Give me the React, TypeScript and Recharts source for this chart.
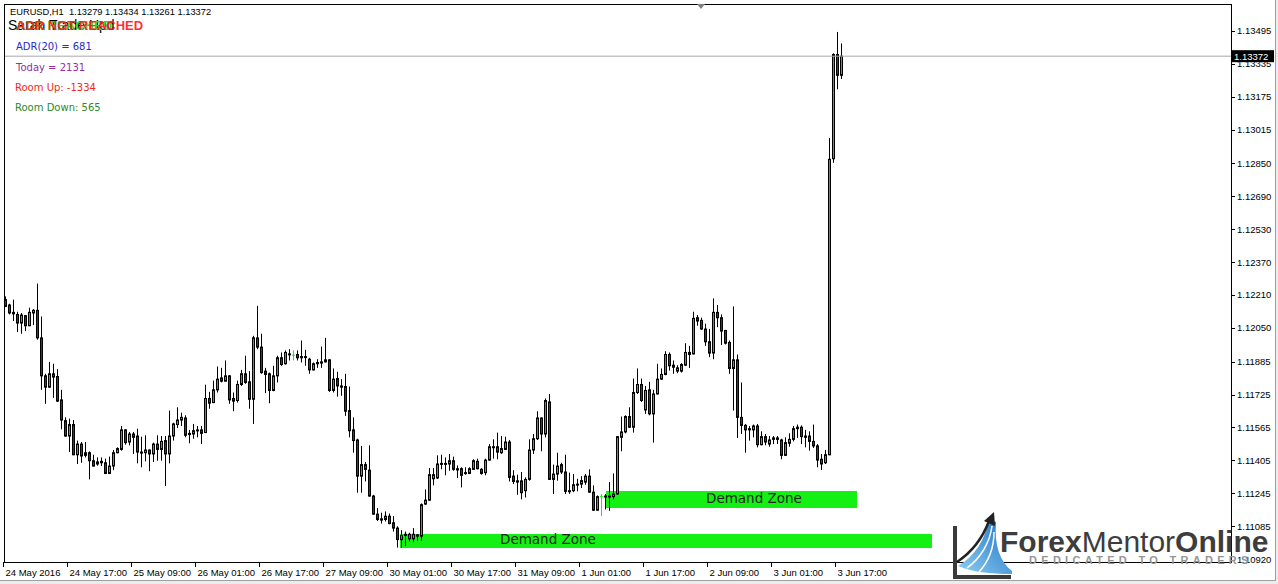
import { Bar, ComposedChart, ReferenceArea, ReferenceLine, XAxis, YAxis } from "recharts"

// EURUSD H1, one entry per bar, oldest first
const opens = [
  1.12187, 1.12161, 1.12125, 1.12115, 1.12073, 1.12109, 1.1206, 1.12122, 1.12135, 1.12001,
  1.11816, 1.11761, 1.11826, 1.11813, 1.11699, 1.11598, 1.11523, 1.11579, 1.11432, 1.11484,
  1.11429, 1.11442, 1.11403, 1.11387, 1.11393, 1.11393, 1.11341, 1.11377, 1.11442, 1.11458,
  1.11553, 1.11494, 1.11533, 1.11523, 1.11445, 1.11442, 1.11455, 1.11436, 1.11484, 1.11458,
  1.11501, 1.11436, 1.11523, 1.11579, 1.11601, 1.11611, 1.1153, 1.11533, 1.11549, 1.11553,
  1.1154, 1.11706, 1.11686, 1.11748, 1.11806, 1.1179, 1.11816, 1.11706, 1.11696, 1.11774,
  1.11826, 1.11787, 1.11702, 1.12001, 1.11956, 1.11839, 1.11826, 1.11745, 1.11816, 1.11904,
  1.11875, 1.1192, 1.11917, 1.1192, 1.1191, 1.1191, 1.11897, 1.11845, 1.11875, 1.11878,
  1.11884, 1.11894, 1.11745, 1.11803, 1.11767, 1.11764, 1.11647, 1.11553, 1.11504, 1.11328,
  1.11384, 1.11357, 1.11231, 1.11143, 1.1112, 1.11117, 1.11133, 1.11101, 1.11075, 1.11019,
  1.11039, 1.11023, 1.11023, 1.11042, 1.11036, 1.11192, 1.11211, 1.11315, 1.11319, 1.11387,
  1.1139, 1.11387, 1.11403, 1.11364, 1.11364, 1.11341, 1.11341, 1.11361, 1.114, 1.11361,
  1.11345, 1.11406, 1.11468, 1.11471, 1.11442, 1.11458, 1.11494, 1.11328, 1.11305, 1.11305,
  1.11257, 1.11312, 1.11455, 1.1151, 1.11611, 1.11533, 1.11689, 1.11312, 1.11338, 1.11384,
  1.11348, 1.11254, 1.11257, 1.11286, 1.11289, 1.11299, 1.11328, 1.1125, 1.11162, 1.11228,
  1.11228, 1.11231, 1.11228, 1.11241, 1.11517, 1.11543, 1.11618, 1.11566, 1.11735, 1.11774,
  1.1165, 1.11748, 1.11631, 1.11728, 1.118, 1.11823, 1.1192, 1.11868, 1.11839, 1.11839,
  1.11868, 1.1192, 1.11923, 1.12099, 1.12086, 1.12044, 1.11982, 1.11927, 1.12125, 1.12099,
  1.12037, 1.11979, 1.11852, 1.11894, 1.11614, 1.11575, 1.11553, 1.11553, 1.11572, 1.11481,
  1.1152, 1.11484, 1.11507, 1.11514, 1.11504, 1.11429, 1.11488, 1.11507, 1.11559, 1.11566,
  1.11523, 1.11523, 1.11497, 1.11475, 1.1141, 1.11393, 1.11432, 1.12873, 1.1338, 1.13279,
]
const highs = [
  1.12203, 1.12167, 1.12187, 1.12128, 1.12122, 1.12112, 1.12148, 1.12141, 1.12265, 1.12105,
  1.11826, 1.11884, 1.11875, 1.11849, 1.11748, 1.11614, 1.11608, 1.11601, 1.11501, 1.11494,
  1.11494, 1.11449, 1.11432, 1.11419, 1.11419, 1.11413, 1.11423, 1.11455, 1.11468, 1.11572,
  1.11556, 1.11543, 1.11543, 1.11559, 1.1152, 1.11527, 1.11458, 1.11491, 1.11527, 1.11523,
  1.11523, 1.11647, 1.11588, 1.11663, 1.11637, 1.11624, 1.11553, 1.11582, 1.11572, 1.11572,
  1.11773, 1.11738, 1.11793, 1.11862, 1.11855, 1.11891, 1.1182, 1.11735, 1.11793, 1.11845,
  1.11914, 1.11839, 1.12011, 1.12157, 1.12021, 1.11855, 1.11832, 1.11865, 1.11914, 1.1193,
  1.1194, 1.11946, 1.1194, 1.1194, 1.11988, 1.11943, 1.11904, 1.11881, 1.11897, 1.11959,
  1.12001, 1.11897, 1.11852, 1.11836, 1.118, 1.11826, 1.11764, 1.11614, 1.1151, 1.11475,
  1.11397, 1.11478, 1.11237, 1.11172, 1.1115, 1.11156, 1.11146, 1.11133, 1.11084, 1.11065,
  1.11058, 1.11052, 1.11075, 1.11045, 1.11195, 1.11263, 1.11367, 1.11367, 1.11429, 1.11432,
  1.11419, 1.11436, 1.11423, 1.1138, 1.11371, 1.11371, 1.11371, 1.1141, 1.11413, 1.11367,
  1.11413, 1.11484, 1.11507, 1.1154, 1.11523, 1.1152, 1.11504, 1.11357, 1.11335, 1.11348,
  1.11322, 1.11507, 1.11533, 1.11644, 1.11614, 1.11706, 1.11728, 1.11384, 1.11442, 1.11393,
  1.11432, 1.11345, 1.11338, 1.11315, 1.11328, 1.11338, 1.11361, 1.11283, 1.11234, 1.11241,
  1.11241, 1.11299, 1.11341, 1.11523, 1.11618, 1.11624, 1.11663, 1.11803, 1.11852, 1.11803,
  1.11767, 1.11787, 1.11748, 1.11875, 1.11852, 1.11936, 1.1193, 1.11891, 1.11868, 1.11878,
  1.11975, 1.11962, 1.12128, 1.12112, 1.12099, 1.1207, 1.12044, 1.12193, 1.12161, 1.12115,
  1.1204, 1.11988, 1.12154, 1.1192, 1.11784, 1.11582, 1.11572, 1.11579, 1.11582, 1.11546,
  1.11533, 1.11523, 1.11523, 1.11523, 1.1151, 1.11517, 1.11536, 1.11572, 1.11579, 1.11575,
  1.11553, 1.11546, 1.11579, 1.11484, 1.11436, 1.11455, 1.12974, 1.13386, 1.1349, 1.13434,
]
const lows = [
  1.12151, 1.12115, 1.12083, 1.12029, 1.12021, 1.12034, 1.12058, 1.12063, 1.11992, 1.11748,
  1.1168, 1.11758, 1.11709, 1.11689, 1.11556, 1.1152, 1.11445, 1.1143, 1.11387, 1.11393,
  1.11419, 1.11312, 1.11374, 1.11379, 1.11377, 1.11338, 1.11338, 1.11357, 1.11439, 1.11452,
  1.11481, 1.11478, 1.11436, 1.1139, 1.11371, 1.114, 1.11352, 1.11397, 1.11403, 1.11403,
  1.1128, 1.1139, 1.11501, 1.11562, 1.11572, 1.11517, 1.11488, 1.1151, 1.11517, 1.11484,
  1.1154, 1.11656, 1.11683, 1.11735, 1.11784, 1.1179, 1.1168, 1.11644, 1.11686, 1.11767,
  1.11777, 1.11656, 1.11582, 1.11946, 1.11826, 1.11732, 1.11683, 1.11741, 1.11784, 1.11865,
  1.11871, 1.11891, 1.11891, 1.11891, 1.11881, 1.11865, 1.11826, 1.11842, 1.11855, 1.11855,
  1.11881, 1.11738, 1.11735, 1.11715, 1.11719, 1.11621, 1.11517, 1.11442, 1.11247, 1.11247,
  1.11302, 1.11228, 1.1114, 1.1111, 1.11097, 1.11107, 1.11094, 1.11058, 1.1098, 1.1098,
  1.10987, 1.1101, 1.11006, 1.11013, 1.11013, 1.11188, 1.11208, 1.11283, 1.11315, 1.11361,
  1.11332, 1.11354, 1.11354, 1.11319, 1.11273, 1.11335, 1.11338, 1.11361, 1.11361, 1.11335,
  1.11332, 1.11403, 1.11413, 1.1141, 1.11436, 1.11455, 1.11302, 1.11289, 1.11237, 1.11215,
  1.11224, 1.11306, 1.11436, 1.11504, 1.11449, 1.11517, 1.11309, 1.11241, 1.11306, 1.11338,
  1.11241, 1.11241, 1.1125, 1.11254, 1.1127, 1.11286, 1.11247, 1.11159, 1.11162, 1.11133,
  1.11166, 1.11159, 1.11215, 1.11237, 1.11449, 1.11536, 1.11562, 1.1154, 1.11728, 1.11689,
  1.11631, 1.11624, 1.11491, 1.11725, 1.11797, 1.11819, 1.11842, 1.11826, 1.11829, 1.11832,
  1.11865, 1.11855, 1.1192, 1.1206, 1.1204, 1.11962, 1.11907, 1.11897, 1.12053, 1.11966,
  1.11969, 1.11826, 1.11647, 1.11514, 1.11533, 1.11442, 1.11501, 1.11517, 1.11468, 1.11478,
  1.11478, 1.11471, 1.11484, 1.11484, 1.1141, 1.11426, 1.11471, 1.11497, 1.11514, 1.11484,
  1.11468, 1.11452, 1.11465, 1.11371, 1.11358, 1.11387, 1.11429, 1.12853, 1.13211, 1.13261,
]
const closes = [
  1.12154, 1.12122, 1.12118, 1.12073, 1.12112, 1.1206, 1.12125, 1.12135, 1.12001, 1.11816,
  1.11761, 1.11826, 1.1181, 1.11693, 1.11601, 1.11523, 1.11579, 1.11432, 1.11484, 1.11426,
  1.11442, 1.11403, 1.11377, 1.11397, 1.114, 1.11341, 1.11377, 1.11442, 1.11462, 1.11553,
  1.11491, 1.11533, 1.11517, 1.11445, 1.1144, 1.11455, 1.11436, 1.11484, 1.11458, 1.11497,
  1.11436, 1.11523, 1.11582, 1.11601, 1.11614, 1.11527, 1.11536, 1.11549, 1.11553, 1.11536,
  1.11706, 1.11683, 1.11748, 1.118, 1.1179, 1.11816, 1.11699, 1.11693, 1.11774, 1.11826,
  1.11784, 1.11702, 1.12001, 1.11956, 1.11832, 1.11823, 1.11745, 1.11816, 1.11904, 1.11871,
  1.1193, 1.11923, 1.11917, 1.11904, 1.11904, 1.11905, 1.11845, 1.11875, 1.11881, 1.11884,
  1.11894, 1.11745, 1.118, 1.11767, 1.11761, 1.11644, 1.11549, 1.11501, 1.11328, 1.11384,
  1.11361, 1.11231, 1.11143, 1.11117, 1.11114, 1.11133, 1.11097, 1.11075, 1.11019, 1.11039,
  1.11045, 1.11045, 1.11045, 1.11036, 1.11189, 1.11211, 1.11335, 1.11335, 1.11387, 1.1139,
  1.11387, 1.11403, 1.11361, 1.11358, 1.11332, 1.11345, 1.11364, 1.11403, 1.11364, 1.11341,
  1.11406, 1.11471, 1.11471, 1.11445, 1.11462, 1.11494, 1.11322, 1.11302, 1.11299, 1.11247,
  1.11312, 1.11455, 1.1151, 1.11611, 1.11533, 1.11696, 1.11312, 1.11338, 1.11377, 1.11348,
  1.11254, 1.11257, 1.11286, 1.11289, 1.11306, 1.11328, 1.1125, 1.11162, 1.11228, 1.11228,
  1.11231, 1.11228, 1.11241, 1.1152, 1.11543, 1.11618, 1.11566, 1.11735, 1.11774, 1.11696,
  1.11745, 1.11631, 1.11728, 1.118, 1.11823, 1.1192, 1.11865, 1.11858, 1.11855, 1.11871,
  1.1193, 1.1193, 1.12096, 1.12083, 1.12044, 1.11982, 1.11927, 1.12125, 1.12099, 1.12034,
  1.11975, 1.11852, 1.11894, 1.11614, 1.11575, 1.11553, 1.11559, 1.11572, 1.11481, 1.1152,
  1.11494, 1.11504, 1.11514, 1.11507, 1.11429, 1.11491, 1.11507, 1.11559, 1.11566, 1.1152,
  1.11517, 1.11497, 1.11475, 1.11406, 1.11387, 1.11432, 1.1287, 1.1338, 1.13279, 1.13372,
]

const timeTicks = [0, 16, 32, 48, 64, 80, 96, 112, 128, 144, 160, 176, 192, 208]
const timeLabels = [
  "24 May 2016", "24 May 17:00", "25 May 09:00", "26 May 01:00", "26 May 17:00", "27 May 09:00",
  "30 May 01:00", "30 May 17:00", "31 May 09:00", "1 Jun 01:00", "1 Jun 17:00", "2 Jun 09:00",
  "3 Jun 01:00", "3 Jun 17:00",
]
const priceTicks = [
  1.13495, 1.13335, 1.13175, 1.13015, 1.1285, 1.1269, 1.1253, 1.1237, 1.1221, 1.1205,
  1.11885, 1.11725, 1.11565, 1.11405, 1.11245, 1.11085, 1.1092,
]
const lastPrice = 1.13372

// demand zones: bar index span and price span
const zoneFrom = [98.625, 150.125]
const zoneTo = [231.625, 212.875]
const zoneHigh = [1.11046, 1.11255]
const zoneLow = [1.10978, 1.11173]
const zoneText = ["Demand Zone", "Demand Zone"]

const candles = opens.map((o, i) => ({
  i,
  o,
  h: highs[i],
  l: lows[i],
  c: closes[i],
  range: [lows[i], highs[i]],
}))

const axisFont = "'Liberation Sans', Arial, sans-serif"
const bull = "#45a845"
const bear = "#8b1c1c"
const doji = "#00ff00"

function Candle(props: any) {
  const { x, y, width, height, payload } = props
  if (x == null || y == null || !payload) return null
  const { o, h, l, c } = payload
  const top = Math.min(y, y + height)
  const bot = Math.max(y, y + height)
  const span = h - l
  const toY = (p: number) => (span > 0 ? top + ((h - p) / span) * (bot - top) : top)
  const cx = Math.floor(x + width / 2) + 0.5
  const yo = toY(o)
  const yc = toY(c)
  if (o === c) {
    return (
      <g>
        <line x1={cx} x2={cx} y1={top} y2={bot} stroke={doji} />
        <line x1={cx - 1.5} x2={cx + 1.5} y1={yo} y2={yo} stroke={doji} />
      </g>
    )
  }
  const bt = Math.min(yo, yc)
  const bb = Math.max(yo, yc)
  return (
    <g>
      <line x1={cx} x2={cx} y1={top} y2={bot} stroke="#000" />
      <rect x={cx - 1} y={bt} width={2} height={Math.max(bb - bt, 1)} fill={c > o ? bull : bear} stroke="#000" strokeWidth={1} />
    </g>
  )
}

function XTick(props: any) {
  const { x, payload } = props
  const label = timeLabels[timeTicks.indexOf(payload.value)]
  const tx = Math.floor(x) - 1.5
  return (
    <g>
      <line x1={tx} x2={tx} y1={562} y2={567} stroke="#000" />
      <text x={x} y={576} fontSize={9.5} fontFamily={axisFont} fill="#000">
        {label}
      </text>
    </g>
  )
}

function YTick(props: any) {
  const { y, payload } = props
  const ty = Math.round(y) + 0.5
  return (
    <g>
      <line x1={1231} x2={1235} y1={ty} y2={ty} stroke="#000" />
      <text x={1237} y={y + 3.5} fontSize={9.5} fontFamily={axisFont} fill="#000">
        {payload.value.toFixed(5)}
      </text>
    </g>
  )
}

function PriceTag(props: any) {
  const vb = props.viewBox
  if (!vb) return null
  const right = vb.x + vb.width
  return (
    <g>
      <rect x={right + 1} y={vb.y - 6} width={42} height={12} fill="#000" />
      <text x={right + 3} y={vb.y + 3.5} fontSize={9.5} fontFamily={axisFont} fill="#fff">
        {lastPrice.toFixed(5)}
      </text>
    </g>
  )
}

function ZoneLabel(props: any) {
  const vb = props.viewBox
  if (!vb) return null
  return (
    <text
      x={vb.x + 100}
      y={vb.y + vb.height / 2 - 2}
      dominantBaseline="central"
      fontSize={13.5}
      fontFamily="'DejaVu Sans', Verdana, sans-serif"
      fill="#222"
    >
      {props.text}
    </text>
  )
}

const infoFont = "'DejaVu Sans', Verdana, sans-serif"

export default function App() {
  return (
    <div style={{ position: "fixed", left: 0, top: 0, width: 1278, height: 584, background: "#fff", overflow: "hidden" }}>
      <ComposedChart width={1278} height={584} data={candles} margin={{ top: 4, right: 0, bottom: 0, left: 4 }}>
        <XAxis
          type="number"
          dataKey="i"
          domain={[-0.375, 306.375]}
          allowDataOverflow
          ticks={timeTicks}
          interval={0}
          tick={<XTick />}
          tickLine={false}
          axisLine={false}
          height={22}
        />
        <YAxis
          orientation="right"
          type="number"
          domain={[1.1091, 1.13626]}
          allowDataOverflow
          ticks={priceTicks}
          interval={0}
          tick={<YTick />}
          tickLine={false}
          axisLine={false}
          width={47}
        />
        {zoneText.map((t, k) => (
          <ReferenceArea
            key={k}
            x1={zoneFrom[k]}
            x2={zoneTo[k]}
            y1={zoneLow[k]}
            y2={zoneHigh[k]}
            fill="#14f014"
            fillOpacity={1}
            stroke="none"
            ifOverflow="visible"
            label={<ZoneLabel text={t} />}
          />
        ))}
        <ReferenceLine y={lastPrice} stroke="#a8a8a8" strokeWidth={1} label={<PriceTag />} />
        <Bar dataKey="range" barSize={3} shape={Candle} isAnimationActive={false} />
      </ComposedChart>

      {/* chart frame */}
      <div style={{ position: "absolute", left: 4, top: 4, width: 1228, height: 559, border: "1px solid #000", boxSizing: "border-box", pointerEvents: "none" }} />

      {/* text labels written on the chart */}
      <div style={{ position: "absolute", left: 10, top: 8, fontFamily: axisFont, fontSize: 9.3, lineHeight: 1, whiteSpace: "nowrap", color: "#000" }}>
        EURUSD,H1&nbsp;&nbsp;1.13279 1.13434 1.13261 1.13372
      </div>
      <div style={{ position: "absolute", left: 8, top: 18, fontFamily: axisFont, fontSize: 14, lineHeight: 1, whiteSpace: "nowrap", color: "#000" }}>
        Sarah Trade Upd
      </div>
      <div style={{ position: "absolute", left: 16, top: 19, fontFamily: axisFont, fontSize: 13, fontWeight: "bold", lineHeight: 1, whiteSpace: "nowrap", color: "#22dd22" }}>
        ADR REACHED
      </div>
      <div style={{ position: "absolute", left: 16, top: 19, fontFamily: axisFont, fontSize: 13, fontWeight: "bold", lineHeight: 1, whiteSpace: "nowrap", color: "#ff1a1a", opacity: 0.9 }}>
        ADR NOT REACHED
      </div>
      <div style={{ position: "absolute", left: 16, top: 42, fontFamily: infoFont, fontSize: 10, lineHeight: 1, whiteSpace: "nowrap", color: "#2828d0" }}>
        ADR(20) = 681
      </div>
      <div style={{ position: "absolute", left: 16, top: 63, fontFamily: infoFont, fontSize: 10, lineHeight: 1, whiteSpace: "nowrap", color: "#93309b" }}>
        Today = 2131
      </div>
      <div style={{ position: "absolute", left: 15, top: 83, fontFamily: infoFont, fontSize: 10, lineHeight: 1, whiteSpace: "nowrap", color: "#f02a1a" }}>
        Room Up: -1334
      </div>
      <div style={{ position: "absolute", left: 15, top: 103, fontFamily: infoFont, fontSize: 10, lineHeight: 1, whiteSpace: "nowrap", color: "#2a8a2a" }}>
        Room Down: 565
      </div>

      {/* window decoration, shift marker and watermark logo */}
      <svg width={1278} height={584} style={{ position: "absolute", left: 0, top: 0, pointerEvents: "none" }}>
        <defs>
          <linearGradient id="swoosh" x1="0" y1="1" x2="1" y2="0">
            <stop offset="0" stopColor="#8fd0f2" />
            <stop offset="1" stopColor="#1b6fc4" />
          </linearGradient>
        </defs>
        <rect x={1276} y={0} width={2} height={584} fill="#ececec" />
        <rect x={0} y={581} width={1278} height={3} fill="#ececec" />
        <line x1={1275.5} x2={1275.5} y1={0} y2={581} stroke="#a0a0a0" />
        <line x1={0} x2={1276} y1={580.5} y2={580.5} stroke="#a0a0a0" />
        <polygon points="697,4 705,4 701,9" fill="#808080" />

        <rect x={953} y={526} width={4} height={53} fill="#3a3a3a" />
        <rect x={953} y={575} width={58} height={4} fill="#3a3a3a" />
        <path d="M958 566 C975 556 985 540 989 519 L996 522 C994 545 1000 562 1012 571 L1012 574 C990 574 972 572 958 566 Z" fill="url(#swoosh)" />
        <path d="M967 568 C981 558 990 542 992 526" stroke="#fff" strokeWidth={1.5} fill="none" />
        <path d="M979 572 C989 561 994 546 994 532" stroke="#fff" strokeWidth={1.5} fill="none" />
        <path d="M957 562 C972 552 983 537 989 521" stroke="#222" strokeWidth={2.5} fill="none" />
        <polygon points="994,512 984,521 995,526" fill="#222" />
        <text x={1000} y={552} fontSize={30} fontFamily={axisFont} fill="#3d3d3d">
          <tspan fontWeight="bold">Forex</tspan>
          <tspan>Mentor</tspan>
          <tspan fontWeight="bold">Online</tspan>
        </text>
        <text x={1029} y={564} fontSize={11} fontWeight="bold" letterSpacing={4.3} fontFamily={axisFont} fill="#969696">
          DEDICATED TO TRADERS
        </text>
      </svg>
    </div>
  )
}
